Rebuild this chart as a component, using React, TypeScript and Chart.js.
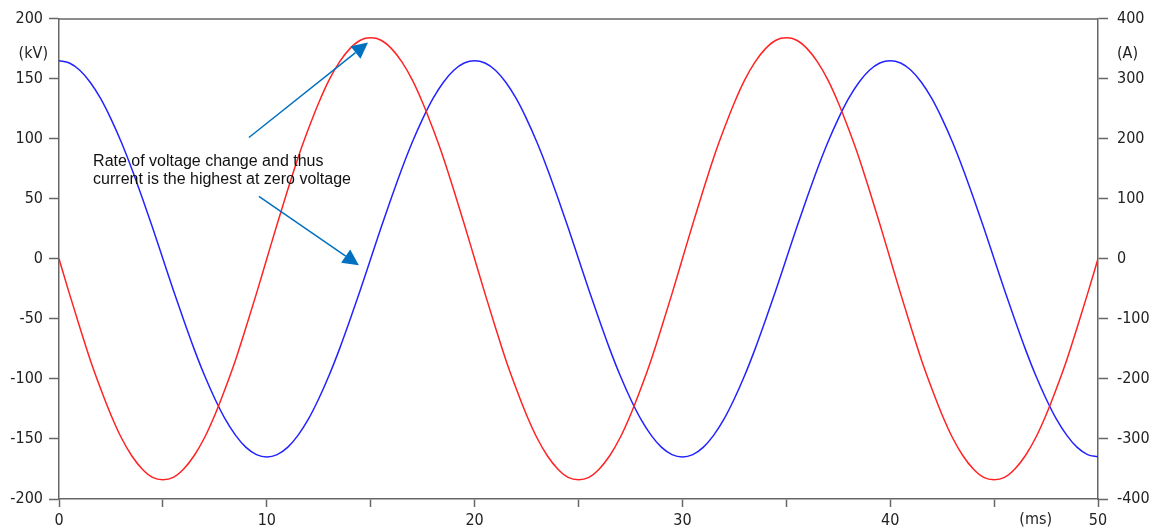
import React, { useEffect, useRef } from 'react';
import { Chart, registerables } from 'chart.js';

Chart.register(...registerables);

// ---- data ----
const timeMs = [
  0, 0.5, 1, 1.5, 2, 2.5, 3, 3.5, 4, 4.5, 5, 5.5, 6, 6.5, 7, 7.5, 8, 8.5, 9, 9.5,
  10, 10.5, 11, 11.5, 12, 12.5, 13, 13.5, 14, 14.5, 15, 15.5, 16, 16.5, 17, 17.5, 18, 18.5, 19, 19.5,
  20, 20.5, 21, 21.5, 22, 22.5, 23, 23.5, 24, 24.5, 25, 25.5, 26, 26.5, 27, 27.5, 28, 28.5, 29, 29.5,
  30, 30.5, 31, 31.5, 32, 32.5, 33, 33.5, 34, 34.5, 35, 35.5, 36, 36.5, 37, 37.5, 38, 38.5, 39, 39.5,
  40, 40.5, 41, 41.5, 42, 42.5, 43, 43.5, 44, 44.5, 45, 45.5, 46, 46.5, 47, 47.5, 48, 48.5, 49, 49.5,
  50,
];
const voltageKV = [
  0, -29, -57, -84, -108, -130, -149, -164, -175, -182, -184, -182, -175, -164, -149, -130, -108, -84, -57, -29,
  0, 29, 57, 84, 108, 130, 149, 164, 175, 182, 184, 182, 175, 164, 149, 130, 108, 84, 57, 29,
  0, -29, -57, -84, -108, -130, -149, -164, -175, -182, -184, -182, -175, -164, -149, -130, -108, -84, -57, -29,
  0, 29, 57, 84, 108, 130, 149, 164, 175, 182, 184, 182, 175, 164, 149, 130, 108, 84, 57, 29,
  0, -29, -57, -84, -108, -130, -149, -164, -175, -182, -184, -182, -175, -164, -149, -130, -108, -84, -57, -29,
  0,
];
const currentA = [
  330, 326, 314, 294, 267, 233, 194, 150, 102, 52, 0, -52, -102, -150, -194, -233, -267, -294, -314, -326,
  -330, -326, -314, -294, -267, -233, -194, -150, -102, -52, 0, 52, 102, 150, 194, 233, 267, 294, 314, 326,
  330, 326, 314, 294, 267, 233, 194, 150, 102, 52, 0, -52, -102, -150, -194, -233, -267, -294, -314, -326,
  -330, -326, -314, -294, -267, -233, -194, -150, -102, -52, 0, 52, 102, 150, 194, 233, 267, 294, 314, 326,
  330, 326, 314, 294, 267, 233, 194, 150, 102, 52, 0, -52, -102, -150, -194, -233, -267, -294, -314, -326,
  -330,
];
const xLabelValues = [0, 10, 20, 30, 40, 50];
const xUnit = { text: '(ms)', at: 47 };
const leftUnit = { text: '(kV)', at: 171 };
const rightUnit = { text: '(A)', at: 342 };

const noteLines = ['Rate of voltage change and thus', 'current is the highest at zero voltage'];
const noteAnchor = { x: 1.64, y: 77 };
const arrows = [
  { fromX: 9.14, fromY: 101, toX: 14.87, toY: 180 },
  { fromX: 9.62, fromY: 52, toX: 14.43, toY: -5.4 },
];

// ---- styles ----
const axisColor = '#666666';
const textColor = '#222222';
const tickFont = { family: '"DejaVu Sans Condensed", "DejaVu Sans", sans-serif', size: 16 };
const noteFont = '16px "Liberation Sans", Arial, sans-serif';
const arrowColor = '#0070C0';

const overlay = {
  id: 'overlay',
  afterDraw(chart: any) {
    const { ctx, chartArea, scales } = chart;
    const x = scales.x;
    const y = scales.y;
    const y2 = scales.y2;
    ctx.save();
    // top frame
    ctx.strokeStyle = axisColor;
    ctx.lineWidth = 1.5;
    const top = Math.round(chartArea.top);
    ctx.beginPath();
    ctx.moveTo(chartArea.left, top);
    ctx.lineTo(chartArea.right, top);
    ctx.stroke();

    // unit labels
    ctx.fillStyle = textColor;
    ctx.font = `${tickFont.size}px ${tickFont.family}`;
    ctx.textBaseline = 'middle';
    ctx.textAlign = 'right';
    ctx.fillText(leftUnit.text, chartArea.left - 11, y.getPixelForValue(leftUnit.at));
    ctx.textAlign = 'left';
    ctx.fillText(rightUnit.text, chartArea.right + 19, y2.getPixelForValue(rightUnit.at));
    ctx.textAlign = 'center';
    ctx.textBaseline = 'top';
    ctx.fillText(xUnit.text, x.getPixelForValue(xUnit.at), chartArea.bottom + 13);

    // note text
    ctx.font = noteFont;
    ctx.fillStyle = '#111';
    ctx.textAlign = 'left';
    ctx.textBaseline = 'alphabetic';
    const nx = x.getPixelForValue(noteAnchor.x);
    const ny = y.getPixelForValue(noteAnchor.y);
    noteLines.forEach((line, i) => ctx.fillText(line, nx, ny + i * 18));

    // arrows
    ctx.strokeStyle = arrowColor;
    ctx.fillStyle = arrowColor;
    ctx.lineWidth = 1.5;
    arrows.forEach((a) => {
      const x1 = x.getPixelForValue(a.fromX);
      const y1 = y.getPixelForValue(a.fromY);
      const x2 = x.getPixelForValue(a.toX);
      const y2p = y.getPixelForValue(a.toY);
      const ang = Math.atan2(y2p - y1, x2 - x1);
      const headLen = 16;
      const headHalf = 8;
      const bx = x2 - headLen * Math.cos(ang);
      const by = y2p - headLen * Math.sin(ang);
      ctx.beginPath();
      ctx.moveTo(x1, y1);
      ctx.lineTo(bx, by);
      ctx.stroke();
      ctx.beginPath();
      ctx.moveTo(x2, y2p);
      ctx.lineTo(bx + headHalf * Math.sin(ang), by - headHalf * Math.cos(ang));
      ctx.lineTo(bx - headHalf * Math.sin(ang), by + headHalf * Math.cos(ang));
      ctx.closePath();
      ctx.fill();
    });
    ctx.restore();
  },
};

export default function App() {
  const ref = useRef<HTMLCanvasElement | null>(null);

  useEffect(() => {
    if (!ref.current) return;
    const chart = new Chart(ref.current, {
      type: 'line',
      data: {
        datasets: [
          {
            label: 'Voltage',
            data: timeMs.map((t, i) => ({ x: t, y: voltageKV[i] })),
            borderColor: 'rgb(255, 35, 35)',
            borderWidth: 1.5,
            pointRadius: 0,
            cubicInterpolationMode: 'monotone',
            yAxisID: 'y',
          },
          {
            label: 'Current',
            data: timeMs.map((t, i) => ({ x: t, y: currentA[i] })),
            borderColor: 'rgb(35, 35, 255)',
            borderWidth: 1.5,
            pointRadius: 0,
            cubicInterpolationMode: 'monotone',
            yAxisID: 'y2',
          },
        ],
      },
      options: {
        animation: false,
        responsive: false,
        maintainAspectRatio: false,
        layout: { padding: { top: 18, left: 0, right: 0, bottom: 0 } },
        plugins: { legend: { display: false }, tooltip: { enabled: false } },
        scales: {
          x: {
            type: 'linear',
            min: 0,
            max: 50,
            border: { display: true, color: axisColor, width: 1.5 },
            grid: { drawOnChartArea: false, drawTicks: true, tickLength: 8, color: axisColor, tickWidth: 1.5 },
            ticks: {
              stepSize: 5,
              padding: 4,
              color: textColor,
              font: tickFont,
              maxRotation: 0,
              autoSkip: false,
              callback: (v: any) => (xLabelValues.includes(Number(v)) ? String(v) : ''),
            },
            afterFit: (s: any) => {
              s.height = 31;
            },
          },
          y: {
            type: 'linear',
            position: 'left',
            min: -200,
            max: 200,
            border: { display: true, color: axisColor, width: 1.5 },
            grid: { drawOnChartArea: false, drawTicks: true, tickLength: 10, color: axisColor, tickWidth: 1.5 },
            ticks: { stepSize: 50, padding: 6, color: textColor, font: tickFont },
            afterFit: (s: any) => {
              s.width = 59;
            },
          },
          y2: {
            type: 'linear',
            position: 'right',
            min: -400,
            max: 400,
            border: { display: true, color: axisColor, width: 1.5 },
            grid: { drawOnChartArea: false, drawTicks: true, tickLength: 10, color: axisColor, tickWidth: 1.5 },
            ticks: { stepSize: 100, padding: 9, color: textColor, font: tickFont },
            afterFit: (s: any) => {
              s.width = 63;
            },
          },
        },
      },
      plugins: [overlay],
    } as any);
    return () => chart.destroy();
  }, []);

  return (
    <div style={{ position: 'absolute', left: 0, top: 0, width: 1161, height: 530, background: '#fff' }}>
      <canvas ref={ref} width={1161} height={530} style={{ display: 'block', width: 1161, height: 530 }} />
    </div>
  );
}
